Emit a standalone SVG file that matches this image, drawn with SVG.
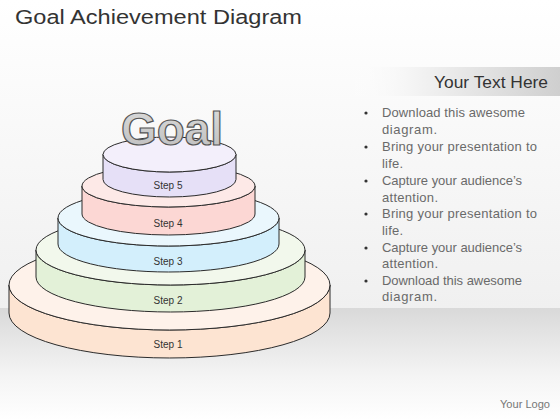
<svg xmlns="http://www.w3.org/2000/svg" width="560" height="420" viewBox="0 0 560 420">
<defs>
<linearGradient id="bg" x1="0" y1="0" x2="0" y2="1">
<stop offset="0" stop-color="#ffffff"/>
<stop offset="1" stop-color="#f0f0f0"/>
</linearGradient>
<linearGradient id="floor" x1="0" y1="0" x2="0" y2="1">
<stop offset="0" stop-color="#d9d9d9"/>
<stop offset="0.6" stop-color="#f4f4f4"/>
<stop offset="1" stop-color="#ffffff"/>
</linearGradient>
<linearGradient id="hdr" x1="0" y1="0" x2="1" y2="0">
<stop offset="0" stop-color="#ffffff" stop-opacity="0"/>
<stop offset="0.35" stop-color="#f2f2f2"/>
<stop offset="1" stop-color="#cfcfcf"/>
</linearGradient>
<linearGradient id="goalFill" x1="0" y1="0" x2="0" y2="1">
<stop offset="0" stop-color="#dcdcdc"/>
<stop offset="1" stop-color="#bdbdbd"/>
</linearGradient>
</defs>
<style>
.edge{stroke:#2b2b2b;stroke-width:1}
.step{font-family:"Liberation Sans",Arial,sans-serif;font-size:10px;fill:#333;text-anchor:middle}
.bul{font-family:"Liberation Sans",Arial,sans-serif;font-size:13px;fill:#6a6a6a}
.dot{fill:#333}
</style>
<rect x="0" y="0" width="560" height="308" fill="url(#bg)"/>
<rect x="0" y="308" width="560" height="112" fill="url(#floor)"/>
<rect x="345" y="67" width="215" height="29" fill="url(#hdr)"/>

<text x="15" y="24" font-family="Liberation Sans, Arial, sans-serif" font-size="20" fill="#333" textLength="287" lengthAdjust="spacingAndGlyphs">Goal Achievement Diagram</text>

<g id="step1">
<path class="edge" fill="#fde4d2" d="M9 285 V313 A160.5 45 0 0 0 330 313 V285 A160.5 45 0 0 1 9 285 Z"/>
<ellipse class="edge" cx="169.5" cy="285" rx="160.5" ry="45" fill="#fef2ea"/>
<text class="step" x="168" y="348">Step 1</text>
</g>
<g id="step2">
<path class="edge" fill="#e3f1d8" d="M36 250 V277 A134.5 35 0 0 0 305 277 V250 A134.5 35 0 0 1 36 250 Z"/>
<ellipse class="edge" cx="170.5" cy="250" rx="134.5" ry="35" fill="#f2f8ec"/>
<text class="step" x="168" y="304">Step 2</text>
</g>
<g id="step3">
<path class="edge" fill="#d3effc" d="M58 218 V244 A110.5 28 0 0 0 279 244 V218 A110.5 28 0 0 1 58 218 Z"/>
<ellipse class="edge" cx="168.5" cy="218" rx="110.5" ry="28" fill="#eaf7fd"/>
<text class="step" x="168" y="265">Step 3</text>
</g>
<g id="step4">
<path class="edge" fill="#fcd7d4" d="M82 186 V214 A86.5 21 0 0 0 255 214 V186 A86.5 21 0 0 1 82 186 Z"/>
<ellipse class="edge" cx="168.5" cy="186" rx="86.5" ry="21" fill="#fde9e7"/>
<text class="step" x="168" y="227">Step 4</text>
</g>
<g id="step5">
<path class="edge" fill="#e6e0f7" d="M103 154.5 V179.5 A66.5 17.5 0 0 0 236 179.5 V154.5 A66.5 17.5 0 0 1 103 154.5 Z"/>
<ellipse class="edge" cx="169.5" cy="154.5" rx="66.5" ry="17.5" fill="#f3effb"/>
<text class="step" x="168" y="189">Step 5</text>
</g>
<g id="goal">
<text x="172" y="145" text-anchor="middle" font-family="Liberation Sans, Arial, sans-serif" font-weight="bold" font-size="46" fill="url(#goalFill)" stroke="#555" stroke-width="1.2">Goal</text>
</g>

<g id="panel">
<text x="434" y="88" font-family="Liberation Sans, Arial, sans-serif" font-size="16" fill="#333" textLength="114" lengthAdjust="spacingAndGlyphs">Your Text Here</text>
<circle class="dot" cx="366" cy="113" r="1.6"/>
<text class="bul" x="382" y="117" textLength="143">Download this awesome</text>
<text class="bul" x="382" y="134" textLength="55">diagram.</text>
<circle class="dot" cx="366" cy="147" r="1.6"/>
<text class="bul" x="382" y="151" textLength="155">Bring your presentation to</text>
<text class="bul" x="382" y="168" textLength="21">life.</text>
<circle class="dot" cx="366" cy="181" r="1.6"/>
<text class="bul" x="382" y="185" textLength="140">Capture your audience’s</text>
<text class="bul" x="382" y="202" textLength="56">attention.</text>
<circle class="dot" cx="366" cy="214" r="1.6"/>
<text class="bul" x="382" y="218" textLength="155">Bring your presentation to</text>
<text class="bul" x="382" y="235" textLength="21">life.</text>
<circle class="dot" cx="366" cy="248" r="1.6"/>
<text class="bul" x="382" y="252" textLength="140">Capture your audience’s</text>
<text class="bul" x="382" y="268" textLength="56">attention.</text>
<circle class="dot" cx="366" cy="281" r="1.6"/>
<text class="bul" x="382" y="285" textLength="140">Download this awesome</text>
<text class="bul" x="382" y="301" textLength="55">diagram.</text>
</g>
<text x="500" y="408" font-family="Liberation Sans, Arial, sans-serif" font-size="10" fill="#777" textLength="50" lengthAdjust="spacingAndGlyphs">Your Logo</text>
</svg>
